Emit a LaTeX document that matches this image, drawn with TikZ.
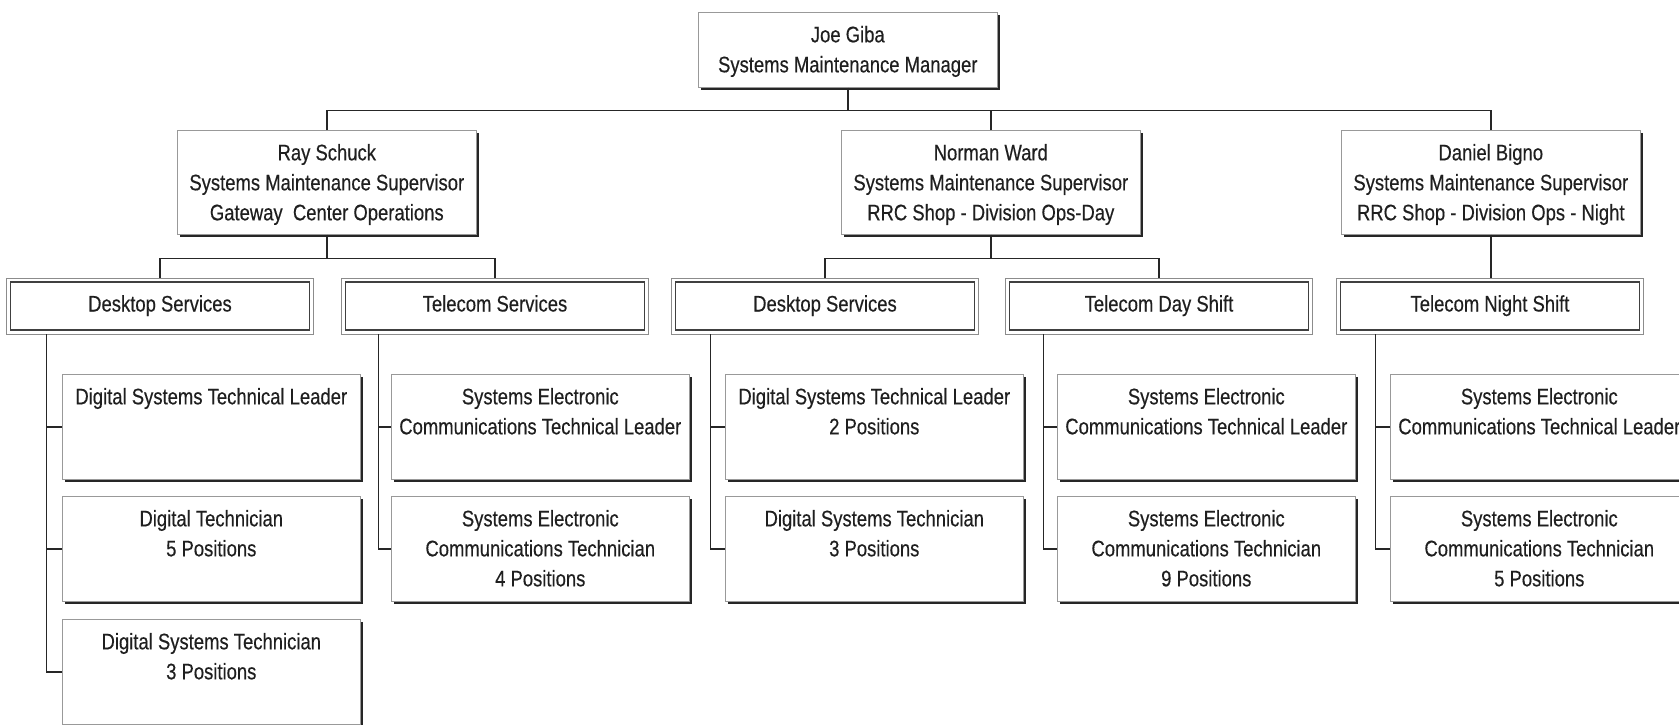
\documentclass[tikz,border=0pt]{standalone}
\usepackage{fontspec}
\setmainfont{Liberation Sans}[FakeStretch=0.82,FakeBold=0.35]
\usetikzlibrary{shadows}
\newcommand{\btxt}[3]{\parbox[c][#2][t]{#1}{\centering\rule{0pt}{30pt}#3}}
\begin{document}
\begin{tikzpicture}[x=1pt,y=-1pt,
  conn/.style={line width=1.6pt, draw=black!85},
  mbox/.style={draw=black!40, line width=0.6pt, fill=white, inner sep=0pt, anchor=north west,
    text=black!88, font=\fontsize{22.5}{30}\selectfont,
    drop shadow={shadow xshift=3pt, shadow yshift=-3pt, fill=black!85, opacity=1}},
  gbox/.style={draw=black!75, line width=1.2pt, fill=white, inner sep=0pt,
    minimum width=299pt, minimum height=48pt, outer sep=4pt,
    text height=16pt, text depth=5pt,
    text=black!88, font=\fontsize{22.5}{30}\selectfont},
  gframe/.style={draw=black!45, line width=0.7pt}]
\fill[white] (0,0) rectangle (1679,725);
\useasboundingbox (0,0) rectangle (1679,725);
\clip (0,0) rectangle (1679,725);

% top and supervisors
\node[mbox] (T) at (698,12) {\btxt{299pt}{75pt}{Joe Giba\\Systems Maintenance Manager}};
\node[mbox] (R) at (177,130) {\btxt{299pt}{104pt}{Ray Schuck\\Systems Maintenance Supervisor\\Gateway\ \ Center Operations}};
\node[mbox] (N) at (841,130) {\btxt{299pt}{104pt}{Norman Ward\\Systems Maintenance Supervisor\\RRC Shop - Division Ops-Day}};
\node[mbox] (D) at (1341,130) {\btxt{299pt}{104pt}{Daniel Bigno\\Systems Maintenance Supervisor\\RRC Shop - Division Ops - Night}};

% groups
\node[gbox] (g1) at (160,306) {Desktop Services};
\node[gbox] (g2) at (495,306) {Telecom Services};
\node[gbox] (g3) at (825,306) {Desktop Services};
\node[gbox] (g4) at (1159,306) {Telecom Day Shift};
\node[gbox] (g5) at (1490,306) {Telecom Night Shift};
\foreach \g in {g1,g2,g3,g4,g5}{\draw[gframe] (\g.north west) rectangle (\g.south east);}

% leaves
\node[mbox] (l11) at (62,374) {\btxt{298pt}{105pt}{Digital Systems Technical Leader}};
\node[mbox] (l12) at (62,496) {\btxt{298pt}{105pt}{Digital Technician\\5 Positions}};
\node[mbox] (l13) at (62,619) {\btxt{298pt}{105pt}{Digital Systems Technician\\3 Positions}};
\node[mbox] (l21) at (391,374) {\btxt{298pt}{105pt}{Systems Electronic\\Communications Technical Leader}};
\node[mbox] (l22) at (391,496) {\btxt{298pt}{105pt}{Systems Electronic\\Communications Technician\\4 Positions}};
\node[mbox] (l31) at (725,374) {\btxt{298pt}{105pt}{Digital Systems Technical Leader\\2 Positions}};
\node[mbox] (l32) at (725,496) {\btxt{298pt}{105pt}{Digital Systems Technician\\3 Positions}};
\node[mbox] (l41) at (1057,374) {\btxt{298pt}{105pt}{Systems Electronic\\Communications Technical Leader}};
\node[mbox] (l42) at (1057,496) {\btxt{298pt}{105pt}{Systems Electronic\\Communications Technician\\9 Positions}};
\node[mbox] (l51) at (1390,374) {\btxt{298pt}{105pt}{Systems Electronic\\Communications Technical Leader}};
\node[mbox] (l52) at (1390,496) {\btxt{298pt}{105pt}{Systems Electronic\\Communications Technician\\5 Positions}};

% connectors: top level
\draw[conn] (T.south) -- ++(0,23) coordinate (tb);
\draw[conn] (R.north) |- (tb) -| (D.north);
\draw[conn] (N.north) -- (N.north |- tb);
% supervisors to groups
\draw[conn] (R.south) -- ++(0,24) coordinate (rb);
\draw[conn] (g1.north) |- (rb) -| (g2.north);
\draw[conn] (N.south) -- ++(0,24) coordinate (nb);
\draw[conn] (g3.north) |- (nb) -| (g4.north);
\draw[conn] (D.south) -- (D.south |- g5.north);
% trunks
\coordinate (t1) at ([xshift=40pt]g1.south west);
\coordinate (t2) at ([xshift=37pt]g2.south west);
\coordinate (t3) at ([xshift=39pt]g3.south west);
\coordinate (t4) at ([xshift=38pt]g4.south west);
\coordinate (t5) at ([xshift=39pt]g5.south west);
\draw[conn] (t1) |- (l13.west);
\draw[conn] (l11.west) -- (l11.west -| t1);
\draw[conn] (l12.west) -- (l12.west -| t1);
\draw[conn] (t2) |- (l22.west);
\draw[conn] (l21.west) -- (l21.west -| t2);
\draw[conn] (t3) |- (l32.west);
\draw[conn] (l31.west) -- (l31.west -| t3);
\draw[conn] (t4) |- (l42.west);
\draw[conn] (l41.west) -- (l41.west -| t4);
\draw[conn] (t5) |- (l52.west);
\draw[conn] (l51.west) -- (l51.west -| t5);
\end{tikzpicture}
\end{document}
